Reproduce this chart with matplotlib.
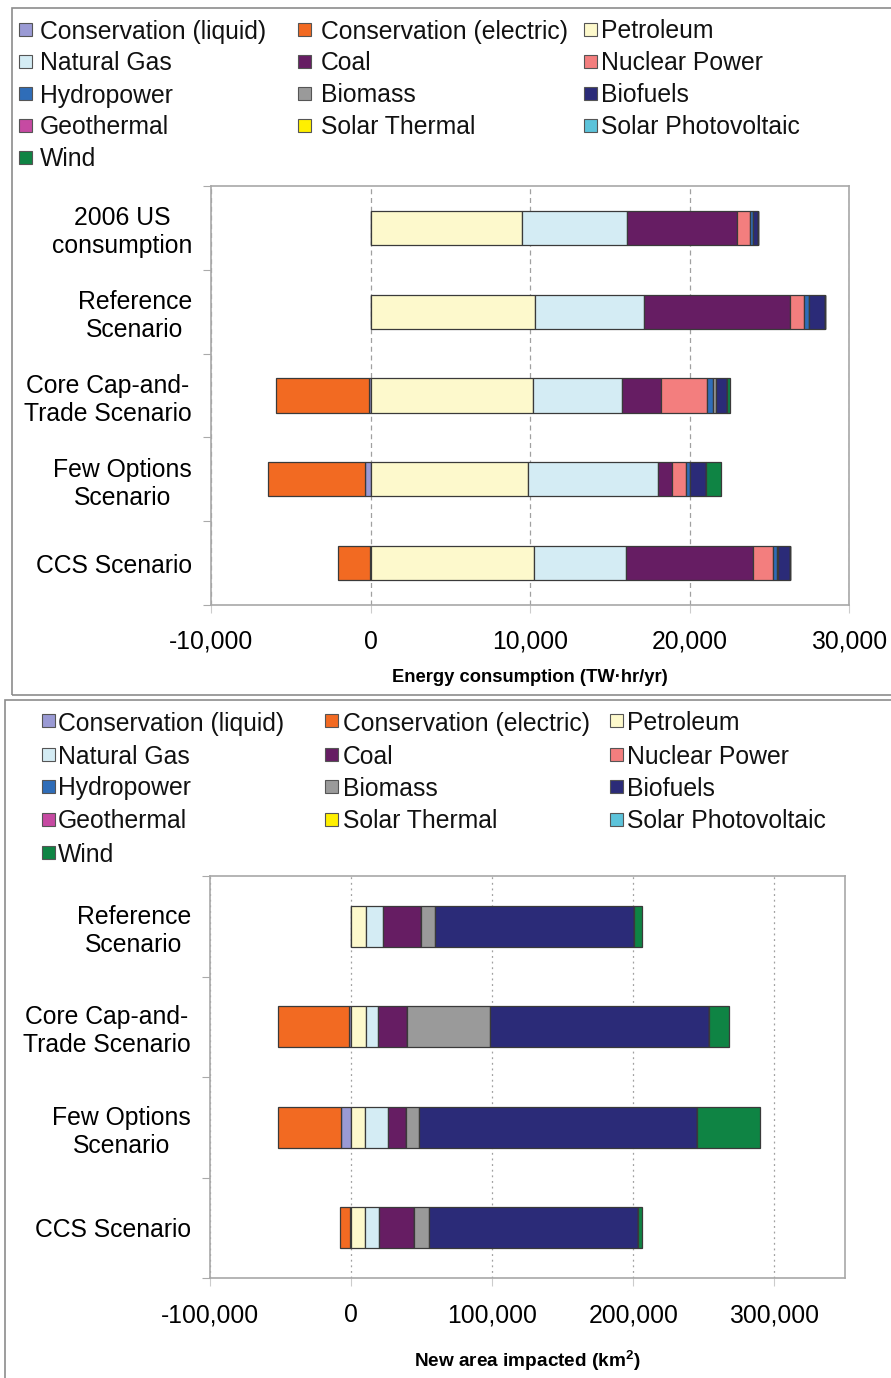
import matplotlib
matplotlib.use("Agg")
import matplotlib.pyplot as plt
from matplotlib.patches import Rectangle
from matplotlib.ticker import FuncFormatter, FixedLocator
import numpy as np

plt.rcParams['font.family'] = ['Liberation Sans', 'DejaVu Sans']
plt.rcParams['mathtext.fontset'] = 'custom'
plt.rcParams['mathtext.rm'] = 'Liberation Sans'
plt.rcParams['mathtext.bf'] = 'Liberation Sans:bold'

W, H = 891, 1378

# ---------------- data ----------------
series_names = ["Conservation (liquid)", "Conservation (electric)", "Petroleum",
                "Natural Gas", "Coal", "Nuclear Power",
                "Hydropower", "Biomass", "Biofuels",
                "Geothermal", "Solar Thermal", "Solar Photovoltaic",
                "Wind"]
series_colors = ["#9a9ad4", "#f26a22", "#fdf9cc",
                 "#d4ecf4", "#661d63", "#f37e7e",
                 "#2f6db8", "#9a9a9a", "#2b2b78",
                 "#c64aa2", "#fff000", "#5cc3da",
                 "#0f8444"]

# Top panel: energy consumption (TW·hr/yr)
top_categories = ["2006 US\nconsumption", "Reference\nScenario", "Core Cap-and-\nTrade Scenario",
                  "Few Options\nScenario", "CCS Scenario"]
top_cons_liquid   = [0, 0, -100, -340, -60]
top_cons_electric = [0, 0, -5800, -6060, -1970]
top_petroleum     = [9470, 10330, 10170, 9860, 10250]
top_natural_gas   = [6630, 6815, 5620, 8140, 5800]
top_coal          = [6900, 9155, 2445, 910, 7935]
top_nuclear       = [780, 860, 2860, 885, 1220]
top_hydro         = [210, 340, 390, 210, 260]
top_biomass       = [0, 0, 150, 0, 100]
top_biofuels      = [310, 990, 700, 1040, 730]
top_geothermal    = [0, 0, 0, 0, 0]
top_solar_thermal = [0, 0, 0, 0, 0]
top_solar_pv      = [0, 0, 0, 0, 0]
top_wind          = [0, 0, 235, 940, 0]
top_ticks = [-10000, 0, 10000, 20000, 30000]

# Bottom panel: new area impacted (km²)
bot_categories = ["Reference\nScenario", "Core Cap-and-\nTrade Scenario",
                  "Few Options\nScenario", "CCS Scenario"]
bot_cons_liquid   = [0, -1500, -7000, -1000]
bot_cons_electric = [0, -50300, -44800, -7000]
bot_petroleum     = [10200, 10650, 9960, 10000]
bot_natural_gas   = [12070, 8750, 16450, 9470]
bot_coal          = [27460, 20100, 12460, 24900]
bot_nuclear       = [0, 0, 0, 0]
bot_hydro         = [0, 0, 0, 0]
bot_biomass       = [9470, 58700, 9500, 10700]
bot_biofuels      = [141560, 155300, 196400, 148300]
bot_geothermal    = [0, 0, 0, 0]
bot_solar_thermal = [0, 0, 0, 0]
bot_solar_pv      = [0, 0, 0, 0]
bot_wind          = [5680, 14300, 44800, 3000]
bot_ticks = [-100000, 0, 100000, 200000, 300000]

top_series = [top_cons_liquid, top_cons_electric, top_petroleum, top_natural_gas, top_coal,
              top_nuclear, top_hydro, top_biomass, top_biofuels, top_geothermal,
              top_solar_thermal, top_solar_pv, top_wind]
bot_series = [bot_cons_liquid, bot_cons_electric, bot_petroleum, bot_natural_gas, bot_coal,
              bot_nuclear, bot_hydro, bot_biomass, bot_biofuels, bot_geothermal,
              bot_solar_thermal, bot_solar_pv, bot_wind]

FS = 17.8
fig = plt.figure(figsize=(W / 100, H / 100), dpi=100)


def fx(x):
    return x / W


def fy(y):
    return 1 - y / H


def panel_box(x0, y0, x1, y1):
    fig.add_artist(Rectangle((fx(x0), fy(y1)), fx(x1) - fx(x0), fy(y0) - fy(y1),
                             transform=fig.transFigure, fill=False,
                             edgecolor="#8c8c8c", lw=1.2))


def legend(rows_y, patch_x, text_x, size):
    for i, (name, col) in enumerate(zip(series_names, series_colors)):
        r, c = divmod(i, 3)
        y = rows_y[r]
        px0 = patch_x[c]
        fig.add_artist(Rectangle((fx(px0), fy(y + size / 2)), size / W, size / H,
                                 transform=fig.transFigure, facecolor=col,
                                 edgecolor="#555555", lw=0.8))
        fig.text(fx(text_x[c]), fy(y), name, fontsize=FS, ha="left", va="center_baseline",
                 color="#111111")


def draw_panel(rect_px, categories, series, ticks, xlim, gridstyle, xlabel, xlsize, labelpad):
    l, t, r, b = rect_px
    ax = fig.add_axes([fx(l), fy(b), fx(r) - fx(l), fy(t) - fy(b)])
    n = len(categories)
    y = np.arange(n)
    pos_left = np.zeros(n)
    neg_left = np.zeros(n)
    for vals, col in zip(series, series_colors):
        v = np.array(vals, dtype=float)
        left = np.where(v < 0, neg_left, pos_left)
        ax.barh(y, v, left=left, height=0.41, color=col, edgecolor="#3a3a3a",
                lw=0.9, zorder=3)
        pos_left = pos_left + np.where(v > 0, v, 0)
        neg_left = neg_left + np.where(v < 0, v, 0)
    ax.set_ylim(n - 0.5, -0.5)
    ax.set_xlim(*xlim)
    ax.xaxis.set_major_locator(FixedLocator(ticks))
    ax.xaxis.set_major_formatter(FuncFormatter(lambda v, p: f"{v:,.0f}"))
    ax.yaxis.set_major_locator(FixedLocator(np.arange(n + 1) - 0.5))
    ax.yaxis.set_major_formatter(FuncFormatter(lambda v, p: ""))
    ax.yaxis.set_minor_locator(FixedLocator(y))
    ax.set_yticks(y, categories, minor=True)
    ax.tick_params(axis="y", which="major", length=6, color="#aaaaaa", direction="out")
    ax.tick_params(axis="y", which="minor", length=0, pad=13.7, labelsize=FS)
    ax.tick_params(axis="x", which="major", length=6, color="#cccccc", direction="out",
                   pad=12, labelsize=FS)
    for lab in ax.get_yticklabels(minor=True):
        lab.set_multialignment("center")
    for s in ax.spines.values():
        s.set_color("#a8a8a8")
        s.set_linewidth(1.2)
    ax.grid(axis="x", color="#a0a0a0", linestyle=gridstyle, lw=0.9, zorder=0)
    ax.set_axisbelow(True)
    ax.set_xlabel(xlabel, fontsize=xlsize, fontweight="bold", labelpad=labelpad)
    return ax


# top panel
panel_box(12, 8, 900, 695)
legend([29, 61, 93, 125, 157], [19, 298, 584], [40, 321, 601], 13)
draw_panel((211, 186, 849, 605), top_categories, top_series, top_ticks,
           (-10000, 30000), (0, (4, 3)), "Energy consumption (TW·hr/yr)", 13.2, 11)

# bottom panel
panel_box(5, 700, 900, 1385)
legend([721, 754, 786, 819, 852], [42, 325, 610], [58, 343, 627], 13)
draw_panel((210, 876, 845, 1278), bot_categories, bot_series, bot_ticks,
           (-100000, 350000), (0, (1.5, 3)), r"New area impacted (km$^{\mathbf{2}}$)", 13.7, 15)

fig.savefig("out.png", dpi=100)
